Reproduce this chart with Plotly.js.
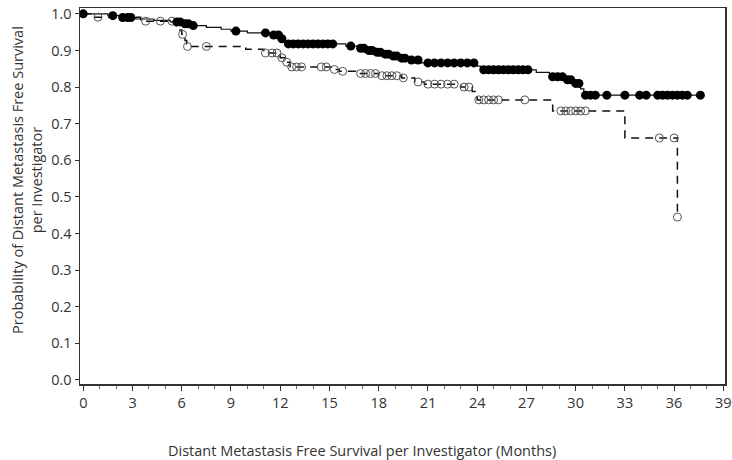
<!DOCTYPE html>
<html>
<head>
<meta charset="utf-8">
<script src="https://cdn.plot.ly/plotly-3.0.1.min.js"></script>
<style>html,body{margin:0;padding:0;background:#fff;}#chart{width:732px;height:460px;}</style>
</head>
<body>
<div id="chart"></div>
<script>
// Solid curve (filled circles): step times and survival
var solidT = [0, 1.5, 2.2, 3.2, 4.3, 5.3, 6.0, 6.6, 7.5, 8.4, 9.0, 10.0, 11.4, 12.0, 12.3, 16.0, 16.8, 17.3, 17.8, 18.3, 18.8, 19.3, 19.8, 20.6, 24.0, 24.2, 27.6, 28.4, 29.4, 29.9, 30.3, 30.5, 37.6];
var solidS = [1.000, 0.995, 0.990, 0.986, 0.982, 0.978, 0.973, 0.968, 0.963, 0.958, 0.953, 0.948, 0.942, 0.932, 0.918, 0.912, 0.906, 0.900, 0.895, 0.890, 0.885, 0.879, 0.874, 0.866, 0.857, 0.847, 0.840, 0.828, 0.820, 0.810, 0.795, 0.778, 0.778];
// Solid curve censor marks
var solidCensT = [0, 1.8, 2.4, 2.7, 2.9, 5.7, 5.9, 6.2, 6.4, 6.7, 9.3, 11.1, 11.6, 11.9, 12.1,
  12.5, 12.8, 13.1, 13.4, 13.7, 14.0, 14.3, 14.6, 14.9, 15.2, 16.3, 16.9, 17.1, 17.4, 17.6, 17.9, 18.1,
  18.4, 18.6, 18.9, 19.1, 19.4, 19.6, 20.0, 20.4, 21.0, 21.4, 21.8, 22.2, 22.6, 23.0, 23.4, 23.8,
  24.4, 24.7, 25.0, 25.3, 25.6, 25.9, 26.2, 26.5, 26.8, 27.1, 28.6, 28.9, 29.2, 29.5, 29.7, 30.0, 30.2,
  30.6, 30.9, 31.2, 31.9, 33.0, 33.9, 34.3, 35.0, 35.3, 35.6, 35.9, 36.2, 36.5, 36.8, 37.6];
var solidCensS = [1.000, 0.995, 0.990, 0.990, 0.990, 0.978, 0.978, 0.973, 0.973, 0.968, 0.953, 0.948, 0.942, 0.942, 0.932,
  0.918, 0.918, 0.918, 0.918, 0.918, 0.918, 0.918, 0.918, 0.918, 0.918, 0.912, 0.906, 0.906, 0.900, 0.900, 0.895, 0.895,
  0.890, 0.890, 0.885, 0.885, 0.879, 0.879, 0.874, 0.874, 0.866, 0.866, 0.866, 0.866, 0.866, 0.866, 0.866, 0.866,
  0.847, 0.847, 0.847, 0.847, 0.847, 0.847, 0.847, 0.847, 0.847, 0.847, 0.828, 0.828, 0.828, 0.820, 0.820, 0.810, 0.810,
  0.778, 0.778, 0.778, 0.778, 0.778, 0.778, 0.778, 0.778, 0.778, 0.778, 0.778, 0.778, 0.778, 0.778, 0.778];

// Dashed curve (open circles): step times and survival
var dashT = [0, 0.6, 3.5, 5.6, 5.8, 6.0, 6.2, 6.3, 9.9, 11.0, 12.0, 12.3, 12.6, 15.1, 15.6, 16.6, 18.0, 19.4, 20.2, 20.8, 23.0, 23.7, 23.9, 24.0, 28.6, 33.0, 36.2];
var dashS = [1.000, 0.991, 0.980, 0.968, 0.956, 0.944, 0.927, 0.911, 0.903, 0.893, 0.880, 0.868, 0.855, 0.848, 0.843, 0.837, 0.831, 0.825, 0.814, 0.808, 0.800, 0.788, 0.776, 0.765, 0.735, 0.661, 0.445];
// Dashed curve censor marks
var dashCensT = [0.9, 3.8, 4.7, 5.4, 6.05, 6.35, 7.5, 11.1, 11.5, 11.8, 12.1, 12.4, 12.7, 13.0, 13.3, 14.5, 14.8,
  15.3, 15.8, 16.9, 17.2, 17.5, 17.8, 18.2, 18.5, 18.8, 19.1, 19.5, 20.4, 21.0, 21.4, 21.8, 22.2, 22.6, 23.2, 23.5,
  24.1, 24.4, 24.7, 25.0, 25.3, 26.9, 29.1, 29.4, 29.7, 30.0, 30.3, 30.6, 35.1, 36.0, 36.2];
var dashCensS = [0.991, 0.980, 0.980, 0.980, 0.944, 0.911, 0.911, 0.893, 0.893, 0.893, 0.880, 0.868, 0.855, 0.855, 0.855, 0.855, 0.855,
  0.848, 0.843, 0.837, 0.837, 0.837, 0.837, 0.831, 0.831, 0.831, 0.831, 0.825, 0.814, 0.808, 0.808, 0.808, 0.808, 0.808, 0.800, 0.800,
  0.765, 0.765, 0.765, 0.765, 0.765, 0.765, 0.735, 0.735, 0.735, 0.735, 0.735, 0.735, 0.661, 0.661, 0.445];

var xTickVals = [0, 3, 6, 9, 12, 15, 18, 21, 24, 27, 30, 33, 36, 39];
var yTickVals = [0.0, 0.1, 0.2, 0.3, 0.4, 0.5, 0.6, 0.7, 0.8, 0.9, 1.0];

var xTitle = 'Distant Metastasis Free Survival per Investigator (Months)';
var yTitle = 'Probability of Distant Metastasis Free Survival<br>per Investigator';

var traces = [
  {x: dashT, y: dashS, mode: 'lines', line: {shape: 'hv', color: '#111', width: 1.5, dash: '8px,6px'}, hoverinfo: 'skip'},
  {x: solidT, y: solidS, mode: 'lines', line: {shape: 'hv', color: '#111', width: 1.2}, hoverinfo: 'skip'},
  {x: dashCensT, y: dashCensS, mode: 'markers', marker: {symbol: 'circle-open', size: 8, color: '#555', line: {width: 1, color: '#555'}}, hoverinfo: 'skip'},
  {x: solidCensT, y: solidCensS, mode: 'markers', marker: {symbol: 'circle', size: 9, color: '#000'}, hoverinfo: 'skip'}
];

var font = 'Open Sans, DejaVu Sans, sans-serif';
var fs = 14.5;
var layout = {
  width: 732, height: 460,
  margin: {l: 80, r: 7, t: 8, b: 76},
  paper_bgcolor: '#fff', plot_bgcolor: '#fff',
  showlegend: false,
  font: {family: font, size: fs, color: '#333'},
  xaxis: {
    range: [-0.2, 39.1], tickvals: xTickVals, ticktext: xTickVals.map(String),
    ticks: 'outside', ticklen: 5, tickwidth: 1, tickcolor: '#333',
    showline: true, linecolor: '#333', linewidth: 1.5, mirror: true,
    showgrid: false, zeroline: false,
    minor: {dtick: 1, tick0: 0, ticks: 'outside', ticklen: 3, tickcolor: '#666', showgrid: false},
    tickfont: {family: font, size: fs, color: '#333'}
  },
  yaxis: {
    range: [-0.011, 1.016], tickvals: yTickVals, ticktext: yTickVals.map(function(v){return v.toFixed(1);}),
    ticks: 'outside', ticklen: 4, tickwidth: 1, tickcolor: '#333',
    showline: true, linecolor: '#333', linewidth: 1.5, mirror: true,
    showgrid: false, zeroline: false,
    tickfont: {family: font, size: fs, color: '#333'}
  },
  annotations: [
    {text: xTitle, xref: 'paper', yref: 'paper', x: 0.437, y: -0.176, xanchor: 'center', yanchor: 'middle',
     showarrow: false, font: {family: font, size: fs, color: '#333'}},
    {text: yTitle, xref: 'paper', yref: 'paper', x: -0.082, y: 0.543, xanchor: 'center', yanchor: 'middle',
     textangle: -90, showarrow: false, font: {family: font, size: fs, color: '#333'}}
  ]
};

Plotly.newPlot('chart', traces, layout, {staticPlot: true, displayModeBar: false});
</script>
</body>
</html>
